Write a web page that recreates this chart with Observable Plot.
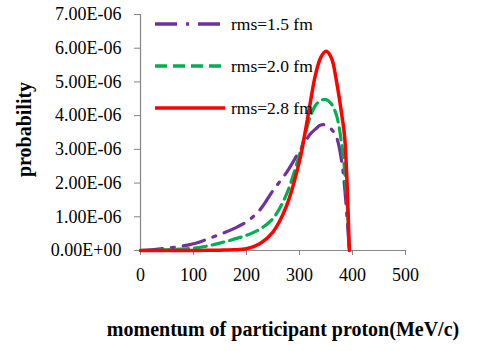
<!DOCTYPE html>
<html><head><meta charset="utf-8">
<script src="https://cdn.jsdelivr.net/npm/d3@7"></script>
<script src="https://cdn.jsdelivr.net/npm/@observablehq/plot@0.6"></script>
<style>
body{margin:0;background:#fff;}
#wrap{position:relative;width:480px;height:351px;}
#wrap svg text{font-family:"Liberation Serif","Times New Roman",serif !important;font-variant-numeric:normal !important;}
#legend{position:absolute;left:155px;top:13px;font-family:"Liberation Serif",serif;font-size:17.5px;color:#000;}
#legend .row{display:flex;align-items:center;height:22px;margin-bottom:20px;}
#legend svg{margin-right:6px;}
</style></head>
<body><div id="wrap"><div id="legend"></div></div>
<script>
const momentum = [0,25,50,75,100,125,150,175,200,225,250,275,300,310,320,330,340,350,360,370,380,385,390,394];
const prob15 = [0,0.03,0.07,0.12,0.2,0.33,0.48,0.64,0.85,1.2,1.78,2.3,2.95,3.2,3.45,3.6,3.72,3.72,3.6,3.35,2.6,1.9,0.9,0];
const prob20 = [0,0.005,0.02,0.04,0.07,0.13,0.22,0.33,0.45,0.63,0.95,1.65,2.85,3.4,3.95,4.3,4.45,4.48,4.35,4.0,3.1,2.4,1.4,0];
const prob28 = [0,0,0,0,0,0.005,0.01,0.02,0.05,0.2,0.55,1.3,2.65,3.45,4.35,5.2,5.72,5.91,5.72,5.0,4.0,3.4,1.9,0];
const seriesNames = ["rms=1.5 fm","rms=2.0 fm","rms=2.8 fm"];
const seriesColors = ["#7030A0","#00B050","#FF0000"];
const seriesDash = ["22,9,3,9","12,6",null];
const yTicks = [0,1e-6,2e-6,3e-6,4e-6,5e-6,6e-6,7e-6];
const xTicks = [0,100,200,300,400,500];
const xTitle = "momentum of participant proton(MeV/c)";
const yTitle = "probability";

const FONT = "Liberation Serif, Times New Roman, serif";
const allSeries = [prob15, prob20, prob28];
const rows = [];
allSeries.forEach((vals, s) => momentum.forEach((m, i) => rows.push({s, m, p: vals[i]*1e-6})));

function fmtE(d){
  if (d === 0) return "0.00E+00";
  const e = Math.floor(Math.log10(Math.abs(d)) + 1e-9);
  const m = d / Math.pow(10, e);
  const es = (e < 0 ? "-" : "+") + String(Math.abs(e)).padStart(2, "0");
  return m.toFixed(2) + "E" + es;
}

const lineMarks = allSeries.map((_, s) => Plot.line(rows.filter(r => r.s === s), {
  x: "m", y: "p", stroke: seriesColors[s], strokeWidth: s === 2 ? 3.5 : 3.2,
  strokeDasharray: seriesDash[s], curve: "catmull-rom"
}));

const chart = Plot.plot({
  width: 480, height: 351,
  marginLeft: 140, marginRight: 75, marginTop: 14, marginBottom: 101,
  style: {fontFamily: FONT, fontSize: "18px", background: "#fff", color: "#000"},
  x: {domain: [0, 500], axis: null},
  y: {domain: [0, 7e-6], axis: null},
  marks: [
    Plot.ruleX([0], {stroke: "#868686", strokeWidth: 1.2}),
    Plot.ruleY([0], {stroke: "#868686", strokeWidth: 1.2}),
    Plot.axisY({ticks: yTicks, tickFormat: fmtE, label: null, tickSize: 6, tickPadding: 13, stroke: "#868686", fill: "#000", fontSize: 18, fontFamily: FONT, letterSpacing: "2px"}),
    Plot.axisX({ticks: xTicks, tickFormat: d => String(d), label: null, tickSize: 5, tickPadding: 13, stroke: "#868686", fill: "#000", fontSize: 18, fontFamily: FONT}),
    ...lineMarks,
    Plot.text([xTitle], {frameAnchor: "bottom", lineAnchor: "middle", textAnchor: "middle", dy: 79, dx: 10, fontWeight: "bold", fontSize: 20, fontFamily: FONT, letterSpacing: "0.85px", fill: "#000"}),
    Plot.text([yTitle], {frameAnchor: "left", textAnchor: "middle", lineAnchor: "middle", dx: -116, dy: -3, rotate: -90, fontWeight: "bold", fontSize: 20, fontFamily: FONT, fill: "#000"})
  ]
});
const wrap = document.getElementById("wrap");
wrap.insertBefore(chart, wrap.firstChild);

const legend = d3.select("#legend");
seriesNames.forEach((name, s) => {
  const row = legend.append("div").attr("class", "row");
  const svg = row.append("svg").attr("width", 70).attr("height", 10);
  svg.append("line").attr("x1", 0).attr("x2", 70).attr("y1", 5).attr("y2", 5)
    .attr("stroke", seriesColors[s]).attr("stroke-width", 3.5)
    .attr("stroke-dasharray", seriesDash[s]);
  row.append("span").text(name);
});
</script></body></html>
